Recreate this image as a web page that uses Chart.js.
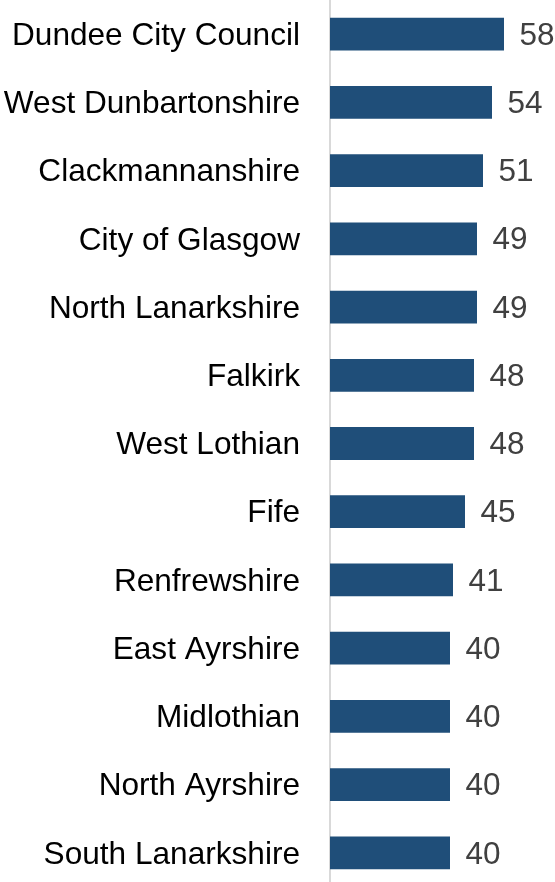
<!DOCTYPE html>
<html>
<head>
<meta charset="utf-8">
<script src="https://cdn.jsdelivr.net/npm/chart.js@4.4.1/dist/chart.umd.min.js"></script>
<style>
  html, body { margin: 0; padding: 0; background: #ffffff; overflow: hidden; }
  #wrap { width: 555px; height: 882px; overflow: hidden; }
  canvas { display: block; }
</style>
</head>
<body>
<div id="wrap"><canvas id="chart" width="555" height="887"></canvas></div>
<script>
// Council areas, highest first
const councils = [
  "Dundee City Council",
  "West Dunbartonshire",
  "Clackmannanshire",
  "City of Glasgow",
  "North Lanarkshire",
  "Falkirk",
  "West Lothian",
  "Fife",
  "Renfrewshire",
  "East Ayrshire",
  "Midlothian",
  "North Ayrshire",
  "South Lanarkshire"
];
const values = [58, 54, 51, 49, 49, 48, 48, 45, 41, 40, 40, 40, 40];
const valueLabels = values.map(v => String(v));

// Writes each bar's value just past its end
const barValueLabels = {
  id: "barValueLabels",
  afterDatasetsDraw(chart) {
    const ctx = chart.ctx;
    const meta = chart.getDatasetMeta(0);
    ctx.save();
    ctx.font = "31.5px 'Liberation Sans', Arial, sans-serif";
    ctx.fillStyle = "#404040";
    ctx.textAlign = "left";
    ctx.textBaseline = "middle";
    meta.data.forEach((bar, i) => {
      ctx.fillText(valueLabels[i], bar.x + 15.5, bar.y + 2);
    });
    ctx.restore();
  }
};

new Chart(document.getElementById("chart"), {
  type: "bar",
  data: {
    labels: councils,
    datasets: [{
      data: values,
      backgroundColor: "#1f4e79",
      borderWidth: 0,
      barPercentage: 0.48,
      categoryPercentage: 1.0
    }]
  },
  options: {
    indexAxis: "y",
    responsive: false,
    animation: false,
    layout: { padding: 0 },
    plugins: {
      legend: { display: false },
      tooltip: { enabled: false }
    },
    scales: {
      x: {
        display: false,
        min: 0,
        max: 75
      },
      y: {
        afterFit(scale) {
          scale.width = 330;
          scale.paddingTop = 0;
          scale.paddingBottom = 0;
        },
        grid: { display: true, drawOnChartArea: false, drawTicks: false },
        border: { display: true, color: "#d9d9d9", width: 2 },
        ticks: {
          color: "#000000",
          padding: 30,
          autoSkip: false,
          labelOffset: 2,
          font: { family: "'Liberation Sans', Arial, sans-serif", size: 31.6 }
        }
      }
    }
  },
  plugins: [barValueLabels]
});
</script>
</body>
</html>
